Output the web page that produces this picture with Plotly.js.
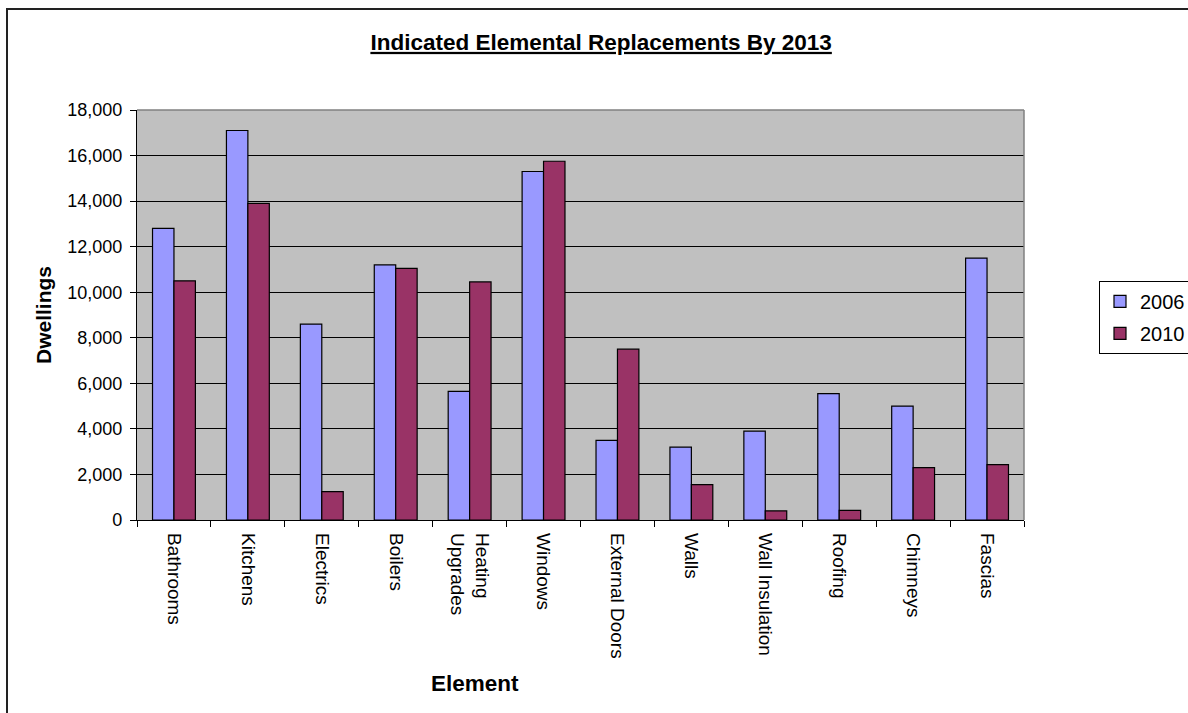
<!DOCTYPE html>
<html>
<head>
<meta charset="utf-8">
<script src="https://cdn.plot.ly/plotly-3.0.1.min.js"></script>
<style>
  html, body { margin:0; padding:0; background:#fff; overflow:hidden; }
  #chart { width:1188px; height:713px; position:absolute; left:0; top:0; }
  #frame { position:absolute; left:6px; top:8px; width:1300px; height:800px;
           border:2px solid #222; pointer-events:none; box-sizing:border-box; }
</style>
</head>
<body>
<div id="chart"></div>
<div id="frame"></div>
<script>
const categories = ["Bathrooms","Kitchens","Electrics","Boilers","Heating<br>Upgrades","Windows",
                    "External Doors","Walls","Wall Insulation","Roofing","Chimneys","Fascias"];
const values2006 = [12800,17100,8600,11200,5650,15300,3500,3200,3900,5550,5000,11500];
const values2010 = [10500,13900,1250,11050,10450,15750,7500,1550,400,420,2300,2430];
const seriesNames = ["2006","2010"];
const yTicks = [0,2000,4000,6000,8000,10000,12000,14000,16000,18000];

const FONT = "Arial, 'Liberation Sans', sans-serif";

const traces = [
  {type:'bar', name:seriesNames[0], x:categories, y:values2006, legendgroup:'a',
   marker:{color:'#9999FF', line:{color:'#000', width:1.2}}},
  {type:'bar', name:seriesNames[1], x:categories, y:values2010, legendgroup:'b',
   marker:{color:'#993366', line:{color:'#000', width:1.2}}}
];

const layout = {
  width:1188, height:713,
  margin:{l:137, r:164, t:110, b:193, pad:0, autoexpand:false},
  paper_bgcolor:'#fff', plot_bgcolor:'#C0C0C0',
  font:{family:FONT, color:'#000', size:18},
  barmode:'group', bargap:0.42, bargroupgap:0,
  showlegend:true,
  title:{text:'<b><u>Indicated Elemental Replacements By 2013</u></b>',
         font:{family:FONT, size:22.5, color:'#000'},
         x:0.506, xref:'container', xanchor:'center',
         y:1-42/713, yref:'container', yanchor:'middle'},
  xaxis:{type:'category', tickson:'boundaries', ticks:'outside', ticklen:6,
         tickcolor:'#000', tickwidth:1, tickangle:90,
         showline:true, linecolor:'#000', linewidth:1.2,
         showgrid:false, zeroline:false, ticklabelstandoff:8,
         tickfont:{family:FONT, size:19, color:'#000'}, fixedrange:true},
  yaxis:{range:[0,18000], tickvals:yTicks, tickformat:',d', ticks:'outside', ticklen:6,
         tickcolor:'#000', tickwidth:1,
         showline:true, linecolor:'#000', linewidth:1.2,
         showgrid:true, gridcolor:'#000', gridwidth:1, zeroline:false,
         ticklabelstandoff:4,
         tickfont:{family:FONT, size:18, color:'#000'}, fixedrange:true},
  legend:{x:(1099-137)/887, xanchor:'left', y:0.583, yanchor:'top',
          bgcolor:'#fff', bordercolor:'#000', borderwidth:1,
          font:{family:FONT, size:20, color:'#000'},
          traceorder:'grouped', tracegroupgap:3, itemwidth:30},
  shapes:[
    {type:'line', xref:'paper', yref:'paper', x0:0, x1:1, y0:1, y1:1,
     line:{color:'#808080', width:1.5}, layer:'above'},
    {type:'line', xref:'paper', yref:'paper', x0:1, x1:1, y0:0, y1:1,
     line:{color:'#808080', width:1.5}, layer:'above'}
  ],
  annotations:[
    {text:'<b>Element</b>', xref:'paper', yref:'paper', x:(475-137)/887, y:-(683-520)/410,
     xanchor:'center', yanchor:'middle', showarrow:false,
     font:{family:FONT, size:22.5, color:'#000'}},
    {text:'<b>Dwellings</b>', xref:'paper', yref:'paper', x:-(137-43)/887, y:0.5,
     xanchor:'center', yanchor:'middle', textangle:-90, showarrow:false,
     font:{family:FONT, size:21, color:'#000'}}
  ]
};

Plotly.newPlot('chart', traces, layout, {staticPlot:true, displayModeBar:false});
</script>
</body>
</html>
